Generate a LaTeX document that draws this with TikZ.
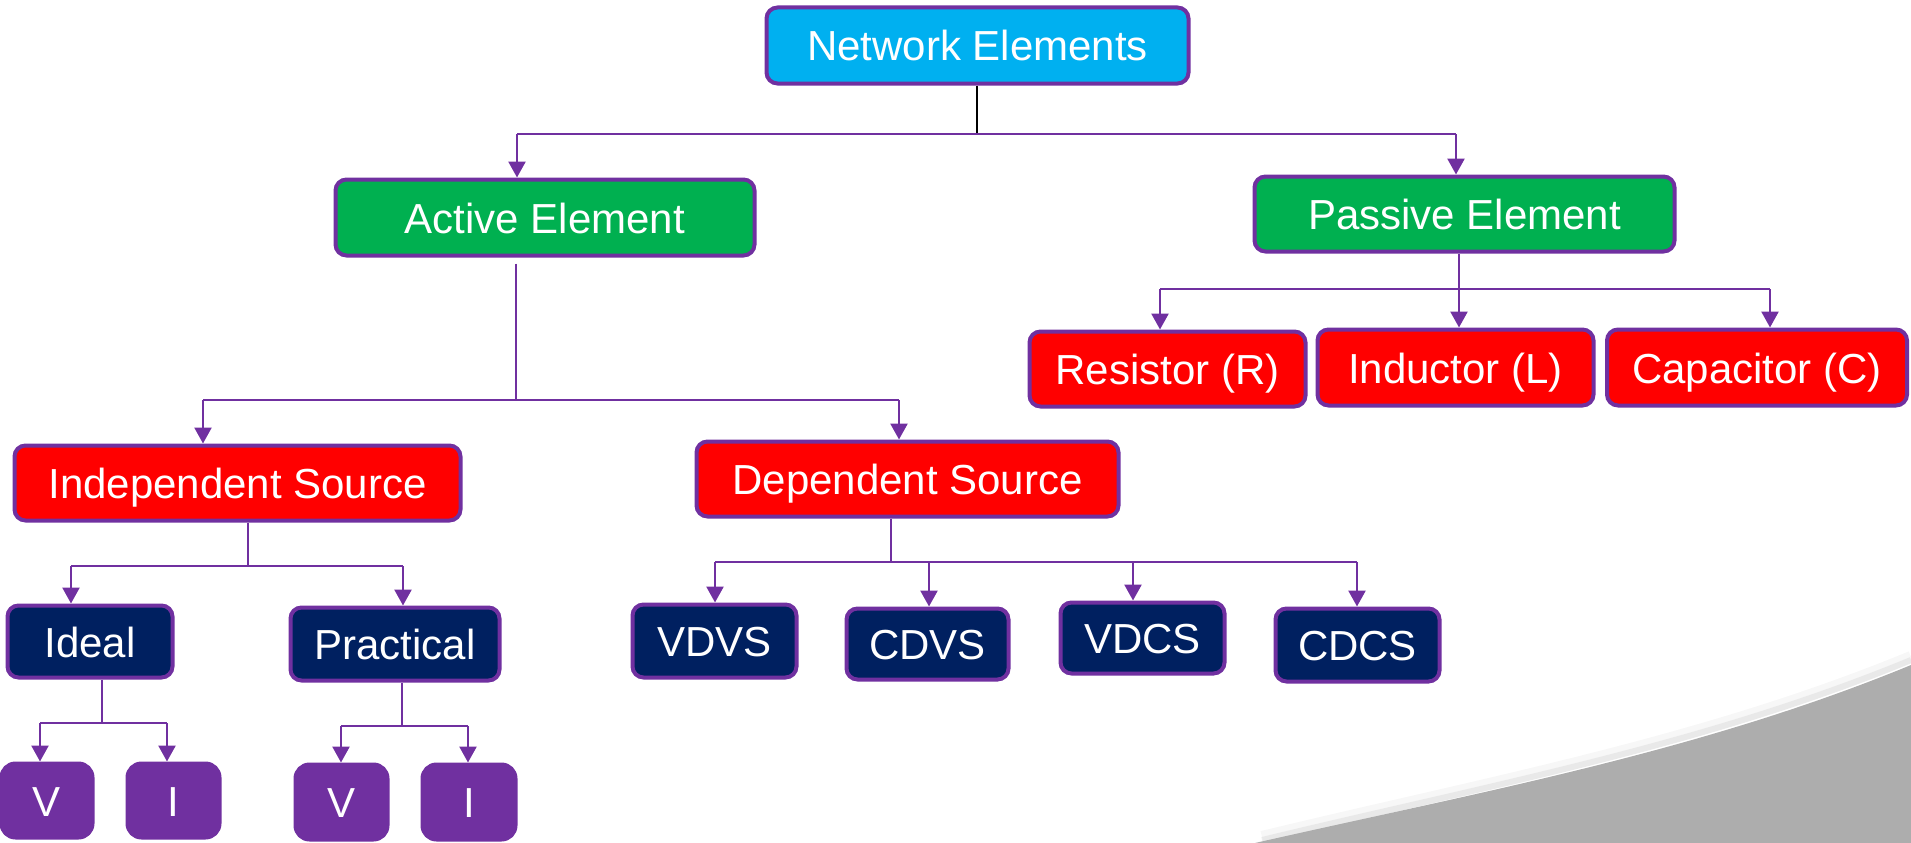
\documentclass[tikz,border=0pt]{standalone}
\usepackage{fontspec}
\setmainfont{Liberation Sans}
\usetikzlibrary{arrows.meta}
\definecolor{cyanb}{HTML}{00B0F0}
\definecolor{greenb}{HTML}{00B050}
\definecolor{redb}{HTML}{FF0000}
\definecolor{navyb}{HTML}{002060}
\definecolor{purp}{HTML}{7030A0}
\definecolor{grayb}{HTML}{ADADAD}
\begin{document}
\begin{tikzpicture}[x=1pt,y=-1pt,
 box/.style={draw=purp, line width=4pt, rounded corners=11pt, text=white, font=\fontsize{42}{50}\selectfont, inner sep=0pt, text height=31pt, text depth=0pt},
 netbox/.style={box, fill=cyanb},
 grnbox/.style={box, fill=greenb},
 redbox/.style={box, fill=redb},
 navbox/.style={box, fill=navyb},
 vibox/.style={box, fill=purp, rounded corners=14pt},
 pline/.style={draw=purp, line width=2.6pt},
 parrow/.style={pline, -{Triangle[width=17pt,length=16pt]}},
 bline/.style={draw=black, line width=2.6pt},
]
\path[use as bounding box] (0,0) rectangle (1911,843);
% grey swoosh
\draw[grayb, opacity=0.1, line width=12pt] (1262,837) .. controls (1480,784) and (1700,744) .. (1911,657);
\draw[grayb, opacity=0.18, line width=6pt] (1262,840) .. controls (1480,787) and (1700,747) .. (1911,660);
\fill[grayb] (1255,843) .. controls (1480,792) and (1700,752) .. (1911,665) -- (1911,843) -- cycle;

% nodes
\node[netbox, minimum width=422pt, minimum height=76pt] (net) at (977.5,45.5) {Network Elements};
\node[grnbox, minimum width=419pt, minimum height=76pt] (act) at (545,217.5) {Active Element};
\node[grnbox, minimum width=420pt, minimum height=75pt] (pas) at (1464.5,214) {Passive Element};
\node[redbox, minimum width=276pt, minimum height=75pt] (res) at (1167.5,369) {Resistor (R)};
\node[redbox, minimum width=276pt, minimum height=76pt] (ind) at (1455.5,367.5) {Inductor (L)};
\node[redbox, minimum width=300pt, minimum height=76pt] (cap) at (1757,367.5) {Capacitor (C)};
\node[redbox, minimum width=446pt, minimum height=75pt] (indep) at (237.5,483) {Independent Source};
\node[redbox, minimum width=422pt, minimum height=75pt] (dep) at (907.5,479) {Dependent Source};
\node[navbox, minimum width=165pt, minimum height=72pt] (ideal) at (90,641.5) {Ideal};
\node[navbox, minimum width=209pt, minimum height=73pt] (prac) at (395,644) {Practical};
\node[navbox, minimum width=164pt, minimum height=73pt] (vdvs) at (714.5,641) {VDVS};
\node[navbox, minimum width=162pt, minimum height=71pt] (cdvs) at (927.5,644) {CDVS};
\node[navbox, minimum width=164pt, minimum height=71pt] (vdcs) at (1142.5,638) {VDCS};
\node[navbox, minimum width=164pt, minimum height=73pt] (cdcs) at (1357.5,645) {CDCS};
\node[vibox, minimum width=91pt, minimum height=74pt] (v1) at (47,800.5) {V};
\node[vibox, minimum width=92pt, minimum height=74pt] (i1) at (173.5,800.5) {I};
\node[vibox, minimum width=92pt, minimum height=75pt] (v2) at (341.5,802) {V};
\node[vibox, minimum width=93pt, minimum height=75pt] (i2) at (469,802) {I};

% bus coordinates
\coordinate (bn) at (977,134);
\coordinate (bnL) at (517,134);
\coordinate (bnR) at (1456,134);
\coordinate (ba) at (516,400);
\coordinate (baL) at (203,400);
\coordinate (baR) at (899,400);
\coordinate (bp) at (1459,289);
\coordinate (bpL) at (1160,289);
\coordinate (bpR) at (1770,289);
\coordinate (bi) at (248,566);
\coordinate (biL) at (71,566);
\coordinate (biR) at (403,566);
\coordinate (bd) at (891,562);
\coordinate (bd1) at (715,562);
\coordinate (bd2) at (929,562);
\coordinate (bd3) at (1133,562);
\coordinate (bd4) at (1357,562);
\coordinate (bI) at (102,723);
\coordinate (bIL) at (40,723);
\coordinate (bIR) at (167,723);
\coordinate (bP) at (402,726);
\coordinate (bPL) at (341,726);
\coordinate (bPR) at (468,726);

% network
\draw[bline] (net.south -| bn) -- (bn);
\draw[pline] (bnL) -- (bnR);
\draw[parrow] (bnL) -- (bnL |- act.north);
\draw[parrow] (bnR) -- (bnR |- pas.north);
% active
\draw[pline] ([yshift=-6pt]act.south -| ba) -- (ba);
\draw[pline] (baL) -- (baR);
\draw[parrow] (baL) -- (baL |- indep.north);
\draw[parrow] (baR) -- (baR |- dep.north);
% passive
\draw[pline] (pas.south -| bp) -- (bp);
\draw[pline] (bpL) -- (bpR);
\draw[parrow] (bpL) -- (bpL |- res.north);
\draw[parrow] (bp) -- (bp |- ind.north);
\draw[parrow] (bpR) -- (bpR |- cap.north);
% independent
\draw[pline] (indep.south -| bi) -- (bi);
\draw[pline] (biL) -- (biR);
\draw[parrow] (biL) -- (biL |- ideal.north);
\draw[parrow] (biR) -- (biR |- prac.north);
% dependent
\draw[pline] (dep.south -| bd) -- (bd);
\draw[pline] (bd1) -- (bd4);
\draw[parrow] (bd1) -- (bd1 |- vdvs.north);
\draw[parrow] (bd2) -- (bd2 |- cdvs.north);
\draw[parrow] (bd3) -- (bd3 |- vdcs.north);
\draw[parrow] (bd4) -- (bd4 |- cdcs.north);
% ideal
\draw[pline] (ideal.south -| bI) -- (bI);
\draw[pline] (bIL) -- (bIR);
\draw[parrow] (bIL) -- (bIL |- v1.north);
\draw[parrow] (bIR) -- (bIR |- i1.north);
% practical
\draw[pline] (prac.south -| bP) -- (bP);
\draw[pline] (bPL) -- (bPR);
\draw[parrow] (bPL) -- (bPL |- v2.north);
\draw[parrow] (bPR) -- (bPR |- i2.north);
\end{tikzpicture}
\end{document}
